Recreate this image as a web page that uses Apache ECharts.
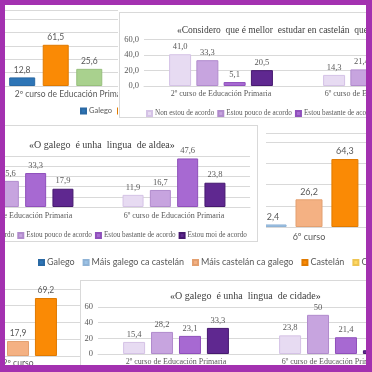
<!DOCTYPE html>
<html>
<head>
<meta charset="utf-8">
<title>Enquisa lingua</title>
<script src="https://cdn.jsdelivr.net/npm/echarts@6/dist/echarts.min.js"></script>
<style>
    html, body { margin: 0; padding: 0; background: #fff; }
    #stage { position: relative; width: 372px; height: 372px; overflow: hidden; background: #fff; }
    .pane { position: absolute; left: 0; top: 0; width: 372px; height: 372px; background: #fff; }
    .edge { position: absolute; border: 1px solid #d9d9d9; box-sizing: border-box; pointer-events: none; }
    #frame { position: absolute; left: 0; top: 0; width: 372px; height: 372px; box-sizing: border-box;
             border-style: solid; border-color: #a331b0; border-width: 5px 6px 7px 5px; pointer-events: none; }
</style>
</head>
<body>
<div id="stage"></div>
<script>
// datos
var cursos = ['2º curso de Educación Primaria', '6º curso de Educación Primaria'];
var cursosCurtos = ['2º curso', '6º curso'];
var graos = ['Non estou de acordo', 'Estou pouco de acordo', 'Estou bastante de acordo', 'Estou moi de acordo'];

// «Considero que é mellor estudar en castelán que en galego»
var mellorNon = [41.0, 14.3];
var mellorPouco = [33.3, 21.4];
var mellorBastante = [5.1, 35.7];
var mellorMoi = [20.5, 28.6];

// «O galego é unha lingua de aldea»
var aldeaNon = [23.1, 11.9];
var aldeaPouco = [25.6, 16.7];
var aldeaBastante = [33.3, 47.6];
var aldeaMoi = [17.9, 23.8];

// «O galego é unha lingua de cidade»
var cidadeNon = [15.4, 23.8];
var cidadePouco = [28.2, 50];
var cidadeBastante = [23.1, 21.4];
var cidadeMoi = [33.3, 4.8];

// lingua habitual
var linguas = ['Galego', 'Máis galego ca castelán', 'Máis castelán ca galego', 'Castelán', 'Outras'];
var usoGalego = [5.1, 0];
var usoMaisGalego = [7.7, 2.4];
var usoMaisCastelan = [17.9, 26.2];
var usoCastelan = [69.2, 64.3];
var usoOutras = [null, 7.1];

// lingua (2º curso)
var linguas2 = ['Galego', 'Castelán', 'Galego e castelán', 'Outra'];
var lingua2Valores = [[12.8], [61.5], [25.6], [null]];

var morado = ['#e7dbf2', '#c7a4df', '#a769d2', '#5f2890'];
var moradoBorde = ['#d5c3e6', '#b18bcd', '#8f50bb', '#46196f'];
var laranxa = ['#2e75b6', '#9dc3e6', '#f4b183', '#fa8a05', '#ffd966'];
var laranxaBorde = ['#2a69a4', '#8fb3d6', '#e3a070', '#e07a00', '#eec552'];
var SERIF = '"Liberation Serif", "DejaVu Serif", serif';
var SANS = 'Lato, "Liberation Sans", sans-serif';
var GRIS = '#595959';

function fmt1(v) { return v == null ? '' : v.toFixed(1).replace('.', ','); }
function fmtN(v) { return v == null ? '' : String(v).replace('.', ','); }

var stage = document.getElementById('stage');

function panel(clip, option) {
    var el = document.createElement('div');
    el.className = 'pane';
    el.style.clipPath = clip;
    stage.appendChild(el);
    var chart = echarts.init(el, null, { renderer: 'canvas' });
    chart.setOption(option);
    return chart;
}
function rect(x0, y0, x1, y1) {
    return 'inset(' + y0 + 'px ' + (372 - x1) + 'px ' + (372 - y1) + 'px ' + x0 + 'px)';
}
function edge(x, y, w, h, sides) {
    var d = document.createElement('div');
    d.className = 'edge';
    d.style.left = x + 'px'; d.style.top = y + 'px';
    d.style.width = w + 'px'; d.style.height = h + 'px';
    if (sides) d.style.borderWidth = sides;
    stage.appendChild(d);
}
// grid en pixeles, sen axustar aos bordos do contedor
function grid(left, top, width, height) {
    return { left: left, top: top, width: width, height: height, outerBoundsMode: 'none', containLabel: false };
}

function bars(names, values, colors, borders, width, gap, fmt, font, size) {
    return names.map(function (n, i) {
        return {
            name: n, type: 'bar', data: values[i], barWidth: width, barGap: gap,
            itemStyle: { color: colors[i], borderColor: borders[i], borderWidth: 1 },
            label: { show: true, position: 'top', distance: 3, fontFamily: font, fontSize: size, color: GRIS,
                     formatter: function (p) { return fmt(p.value); } }
        };
    });
}
function catAxis(data, font, size, margin) {
    return {
        type: 'category', data: data,
        axisLine: { lineStyle: { color: '#d9d9d9' } }, axisTick: { show: false },
        axisLabel: { fontFamily: font, fontSize: size, color: GRIS, margin: margin, interval: 0 }
    };
}
function valAxis(max, interval, showLabels, fmt, font, size) {
    return {
        type: 'value', min: 0, max: max, interval: interval,
        axisLine: { show: false }, axisTick: { show: false },
        splitLine: { lineStyle: { color: '#d9d9d9' } },
        axisLabel: { show: showLabels, fontFamily: font, fontSize: size, color: GRIS, margin: 5,
                     formatter: function (v) { return fmt(v); } }
    };
}
function legend(left, top, font, size, gap) {
    return {
        left: left, top: top, width: 700, icon: 'rect', itemWidth: 5, itemHeight: 5, itemGap: gap,
        textStyle: { fontFamily: font, fontSize: size, color: GRIS, padding: [0, 0, 0, -2] }
    };
}

// lingua habitual, 6º curso + lenda
panel('polygon(266px 133px, 372px 133px, 372px 282px, 5px 282px, 5px 242px, 266px 242px)', {
    animation: false,
    grid: grid(-36, 121.3, 460, 105.7),
    legend: legend(33, 253, SANS, 9, 8),
    xAxis: catAxis(cursosCurtos, SANS, 9, 6),
    yAxis: valAxis(100, 20, false, fmt1, SANS, 9),
    series: bars(linguas, [usoGalego, usoMaisGalego, usoMaisCastelan, usoCastelan, usoOutras],
                 laranxa, laranxaBorde, 27, '33%', fmt1, SANS, 9)
});
edge(266, 133, 120, 1, '1px 0 0 0');

// lingua habitual, 2º curso
panel(rect(5, 282, 80, 372), {
    animation: false,
    grid: grid(-67, 272.2, 340, 83.8),
    xAxis: catAxis(cursosCurtos, SANS, 8.5, 3),
    yAxis: valAxis(100, 20, false, fmt1, SANS, 9),
    series: bars(linguas, [usoGalego, usoMaisGalego, usoMaisCastelan, usoCastelan, usoOutras],
                 laranxa, laranxaBorde, 22, '27%', fmt1, SANS, 8.5)
});

// lingua, 2º curso
panel(rect(5, 10, 118, 122), {
    animation: false,
    grid: grid(0, 19, 145, 67),
    legend: legend(75, 102, SANS, 7.5, 5),
    xAxis: catAxis([cursos[0]], SANS, 8.5, 4),
    yAxis: valAxis(100, 20, false, fmt1, SANS, 9),
    series: bars(linguas2, lingua2Valores, ['#2e75b6', '#fa8a05', '#a9d18e', '#ffd966'],
                 ['#2a69a4', '#e07a00', '#97bf7c', '#eec552'], 26, '29%', fmt1, SANS, 8.5)
});
edge(5, 10, 113, 1, '1px 0 0 0');

// mellor estudar en castelán
panel(rect(119, 12, 372, 118), {
    animation: false,
    title: { text: '«Considero  que é mellor  estudar en castelán  que  en galego»', left: 172, top: 20,
             textStyle: { fontFamily: SERIF, fontSize: 9.5, fontWeight: 'normal', color: '#404040' } },
    grid: grid(144, 39.5, 308, 46.5),
    legend: legend(141, 105, SERIF, 7.2, 3),
    xAxis: catAxis(cursos, SERIF, 8, 4),
    yAxis: valAxis(60, 20, true, fmt1, SERIF, 8.5),
    series: bars(graos, [mellorNon, mellorPouco, mellorBastante, mellorMoi], morado, moradoBorde,
                 22, '24%', fmt1, SERIF, 8.5)
});
edge(119, 12, 270, 106);

// lingua de aldea
panel(rect(5, 125, 258, 242), {
    animation: false,
    title: { text: '«O galego  é unha  lingua  de aldea»', left: 24, top: 135,
             textStyle: { fontFamily: SERIF, fontSize: 10, fontWeight: 'normal', color: '#404040' } },
    grid: grid(-54, 156, 304, 51),
    legend: legend(-59, 227, SERIF, 7.2, 3),
    xAxis: catAxis(cursos, SERIF, 8, 5),
    yAxis: valAxis(50, 10, false, fmt1, SERIF, 8.5),
    series: bars(graos, [aldeaNon, aldeaPouco, aldeaBastante, aldeaMoi], morado, moradoBorde,
                 21, '30%', fmt1, SERIF, 8.5)
});
edge(4, 125, 254, 117);

// lingua de cidade
panel(rect(80, 280, 372, 372), {
    animation: false,
    title: { text: '«O galego  é unha  lingua  de cidade»', left: 165, top: 286,
             textStyle: { fontFamily: SERIF, fontSize: 10, fontWeight: 'normal', color: '#404040' } },
    grid: grid(98, 307, 312, 47),
    xAxis: catAxis(cursos, SERIF, 8, 4),
    yAxis: valAxis(60, 20, true, fmtN, SERIF, 8.5),
    series: bars(graos, [cidadeNon, cidadePouco, cidadeBastante, cidadeMoi], morado, moradoBorde,
                 22, '27%', fmtN, SERIF, 8.5)
});
edge(80, 280, 300, 100);

var frame = document.createElement('div');
frame.id = 'frame';
stage.appendChild(frame);
</script>
</body>
</html>
